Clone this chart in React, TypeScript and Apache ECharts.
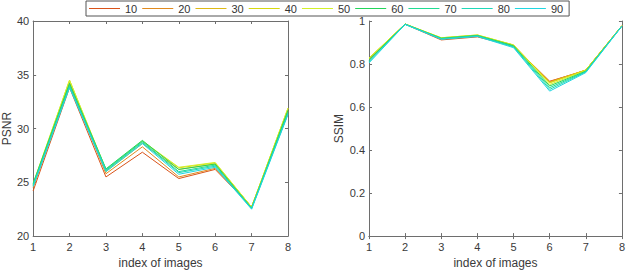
import React, { useEffect, useRef } from "react";
import * as echarts from "echarts";

const categories = ["1", "2", "3", "4", "5", "6", "7", "8"];
const seriesNames = ["10", "20", "30", "40", "50", "60", "70", "80", "90"];
const colors = ["#D95319", "#E08A1E", "#DDB915", "#D6D80E", "#D2F028", "#22D45A", "#20DB92", "#1FD7B8", "#20D6E0"];

const psnr10 = [24.2, 33.8, 25.5, 27.8, 25.35, 26.2, 22.7, 31.4];
const psnr20 = [24.5, 34.1, 25.8, 28.3, 25.5, 26.3, 22.7, 31.6];
const psnr30 = [24.7, 34.3, 26.0, 28.6, 26.2, 26.7, 22.7, 31.8];
const psnr40 = [24.8, 34.5, 26.1, 28.8, 26.35, 26.8, 22.7, 31.9];
const psnr50 = [24.9, 34.5, 26.2, 28.85, 26.4, 26.85, 22.7, 31.9];
const psnr60 = [24.9, 34.2, 26.25, 28.9, 26.2, 26.7, 22.6, 31.7];
const psnr70 = [24.8, 34.0, 26.2, 28.8, 26.0, 26.6, 22.6, 31.5];
const psnr80 = [24.7, 33.9, 26.1, 28.7, 25.9, 26.5, 22.55, 31.4];
const psnr90 = [24.6, 33.8, 26.0, 28.6, 25.75, 26.4, 22.5, 31.3];

const ssim10 = [0.82, 0.985, 0.912, 0.926, 0.884, 0.72, 0.77, 0.978];
const ssim20 = [0.823, 0.986, 0.916, 0.93, 0.886, 0.718, 0.772, 0.978];
const ssim30 = [0.826, 0.986, 0.92, 0.933, 0.888, 0.715, 0.772, 0.978];
const ssim40 = [0.828, 0.986, 0.922, 0.935, 0.889, 0.712, 0.772, 0.978];
const ssim50 = [0.826, 0.986, 0.922, 0.935, 0.888, 0.705, 0.77, 0.978];
const ssim60 = [0.82, 0.985, 0.92, 0.933, 0.885, 0.698, 0.767, 0.977];
const ssim70 = [0.815, 0.985, 0.918, 0.931, 0.882, 0.69, 0.765, 0.977];
const ssim80 = [0.81, 0.985, 0.917, 0.93, 0.879, 0.682, 0.763, 0.977];
const ssim90 = [0.805, 0.984, 0.915, 0.928, 0.876, 0.674, 0.76, 0.976];

const psnrData = [psnr10, psnr20, psnr30, psnr40, psnr50, psnr60, psnr70, psnr80, psnr90];
const ssimData = [ssim10, ssim20, ssim30, ssim40, ssim50, ssim60, ssim70, ssim80, ssim90];

const FONT = "Liberation Sans";
const AXIS_COLOR = "#6e6e6e";
const TEXT_COLOR = "#3a3a3a";

function xAxisBottom(gridIndex: number) {
  return {
    type: "category",
    gridIndex,
    data: categories,
    boundaryGap: false,
    position: "bottom",
    name: "index of images",
    nameLocation: "middle",
    nameGap: 19,
    nameTextStyle: { color: TEXT_COLOR, fontSize: 12, fontFamily: FONT },
    axisLine: { show: true, lineStyle: { color: AXIS_COLOR, width: 1 } },
    axisTick: { show: true, inside: true, length: 3, lineStyle: { color: AXIS_COLOR } },
    axisLabel: { show: true, margin: 5, color: TEXT_COLOR, fontSize: 11, fontFamily: FONT },
    splitLine: { show: false },
  };
}

function xAxisTop(gridIndex: number) {
  return {
    type: "category",
    gridIndex,
    data: categories,
    boundaryGap: false,
    position: "top",
    axisLine: { show: true, lineStyle: { color: AXIS_COLOR, width: 1 } },
    axisTick: { show: true, inside: true, length: 3, lineStyle: { color: AXIS_COLOR } },
    axisLabel: { show: false },
    splitLine: { show: false },
  };
}

function yAxisLeft(gridIndex: number, min: number, max: number, interval: number, name: string, nameGap: number) {
  return {
    type: "value",
    gridIndex,
    min,
    max,
    interval,
    position: "left",
    name,
    nameLocation: "middle",
    nameGap,
    nameTextStyle: { color: TEXT_COLOR, fontSize: 12, fontFamily: FONT },
    axisLine: { show: true, lineStyle: { color: AXIS_COLOR, width: 1 } },
    axisTick: { show: true, inside: true, length: 3, lineStyle: { color: AXIS_COLOR } },
    axisLabel: { show: true, margin: 4, color: TEXT_COLOR, fontSize: 11, fontFamily: FONT },
    splitLine: { show: false },
  };
}

function yAxisRight(gridIndex: number, min: number, max: number, interval: number) {
  return {
    type: "value",
    gridIndex,
    min,
    max,
    interval,
    position: "right",
    axisLine: { show: true, lineStyle: { color: AXIS_COLOR, width: 1 } },
    axisTick: { show: true, inside: true, length: 3, lineStyle: { color: AXIS_COLOR } },
    axisLabel: { show: false },
    splitLine: { show: false },
  };
}

export default function App() {
  const ref = useRef<HTMLDivElement>(null);

  useEffect(() => {
    document.body.style.margin = "0";
    if (!ref.current) return;
    const chart = echarts.init(ref.current, undefined, { renderer: "svg" });

    const series: any[] = [];
    seriesNames.forEach((name, i) => {
      series.push({
        name,
        type: "line",
        xAxisIndex: 0,
        yAxisIndex: 0,
        data: psnrData[i],
        symbol: "none",
        lineStyle: { width: 1, color: colors[i] },
        itemStyle: { color: colors[i] },
      });
    });
    seriesNames.forEach((name, i) => {
      series.push({
        name,
        type: "line",
        xAxisIndex: 2,
        yAxisIndex: 2,
        data: ssimData[i],
        symbol: "none",
        lineStyle: { width: 1, color: colors[i] },
        itemStyle: { color: colors[i] },
      });
    });

    chart.setOption({
      animation: false,
      backgroundColor: "#ffffff",
      legend: {
        data: seriesNames,
        left: 86,
        top: 1,
        orient: "horizontal",
        padding: [1, 6, 1, 3],
        icon: "rect",
        itemWidth: 31,
        itemHeight: 1,
        itemGap: 5,
        borderWidth: 1,
        borderColor: "#555555",
        backgroundColor: "#ffffff",
        selectedMode: false,
        textStyle: { color: "#333333", fontSize: 11, fontFamily: FONT, lineHeight: 13 },
      },
      grid: [
        { left: 32, top: 21, width: 256, height: 217, containLabel: false },
        { left: 369, top: 21, width: 257, height: 217, containLabel: false },
      ],
      xAxis: [xAxisBottom(0), xAxisTop(0), xAxisBottom(1), xAxisTop(1)],
      yAxis: [
        yAxisLeft(0, 20, 40, 5, "PSNR", 20),
        yAxisRight(0, 20, 40, 5),
        yAxisLeft(1, 0, 1, 0.2, "SSIM", 24),
        yAxisRight(1, 0, 1, 0.2),
      ],
      series,
    });

    return () => {
      chart.dispose();
    };
  }, []);

  return (
    <div
      ref={ref}
      style={{ position: "absolute", left: 0, top: 0, width: 628, height: 274, background: "#fff" }}
    />
  );
}
